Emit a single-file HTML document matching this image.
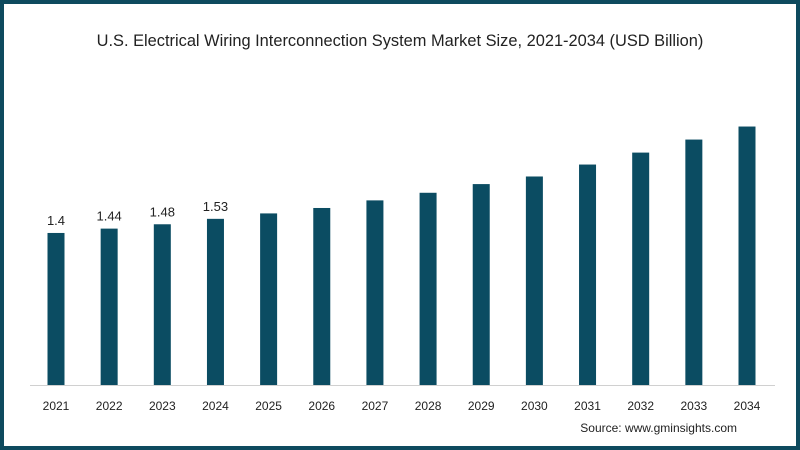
<!DOCTYPE html>
<html><head><meta charset="utf-8"><style>
body{margin:0;background:#fff}
#wrap{position:relative;width:800px;height:450px;box-sizing:border-box;border:4px solid #0e4a5e;background:#fff;font-family:"Liberation Sans",sans-serif}
svg{position:absolute;left:-4px;top:-4px}
</style></head><body>
<div id="wrap">
<svg id="chart" width="800" height="450">
<text x="400" y="46" text-anchor="middle" font-size="16.4" fill="#222" font-family="Liberation Sans, sans-serif">U.S. Electrical Wiring Interconnection System Market Size, 2021-2034 (USD Billion)</text>
<line x1="30" y1="385.5" x2="775" y2="385.5" stroke="#d0d0d0" stroke-width="1"/>
<text x="737" y="432" text-anchor="end" font-size="12" fill="#222">Source: www.gminsights.com</text>
</svg>
</div>
<script>
const categories=["2021","2022","2023","2024","2025","2026","2027","2028","2029","2030","2031","2032","2033","2034"];
const values=[1.4,1.44,1.48,1.53,1.58,1.63,1.70,1.77,1.85,1.92,2.03,2.14,2.26,2.38];
const labels=["1.4","1.44","1.48","1.53","","","","","","","","","",""];
const svg=document.getElementById('chart');
const NS='http://www.w3.org/2000/svg';
const base=385, perUnit=108.6;
function xPos(i){return 56+i*(747-56)/(categories.length-1);}
function yPos(v){return base-v*perUnit;}
categories.forEach((c,i)=>{
  const r=document.createElementNS(NS,'rect');
  r.setAttribute('x',xPos(i)-8.5);r.setAttribute('y',yPos(values[i]));
  r.setAttribute('width',17);r.setAttribute('height',base-yPos(values[i]));
  r.setAttribute('fill','#0b4c62');
  
  
  svg.appendChild(r);
  const t=document.createElementNS(NS,'text');
  t.setAttribute('x',xPos(i));t.setAttribute('y',410);t.setAttribute('text-anchor','middle');
  t.setAttribute('font-size','12');t.setAttribute('fill','#222');t.textContent=c;
  
  
  svg.appendChild(t);
  if(labels[i]){
    const l=document.createElementNS(NS,'text');
    l.setAttribute('x',xPos(i));l.setAttribute('y',yPos(values[i])-8);l.setAttribute('text-anchor','middle');
    l.setAttribute('font-size','13');l.setAttribute('fill','#222');l.textContent=labels[i];
    
    
    svg.appendChild(l);
  }
});
</script>
</body></html>
